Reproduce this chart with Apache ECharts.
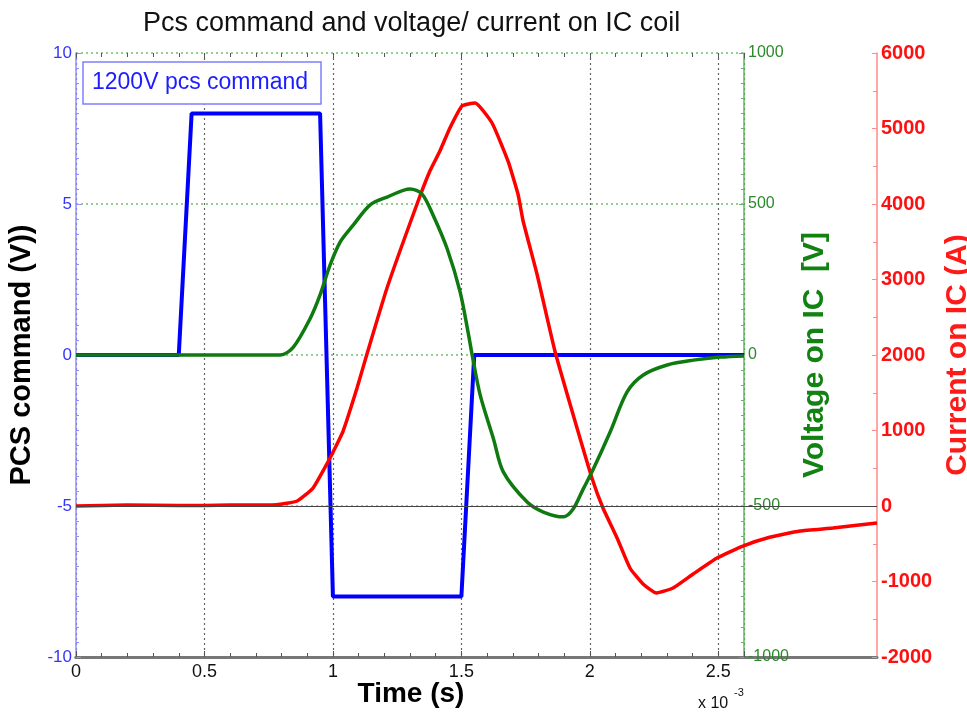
<!DOCTYPE html>
<html>
<head>
<meta charset="utf-8">
<script src="https://cdn.jsdelivr.net/npm/echarts@6/dist/echarts.min.js"></script>
<style>
html,body{margin:0;padding:0;background:#fff;}
#chart{width:967px;height:713px;}
</style>
</head>
<body>
<div id="chart"></div>
<script>
// Time in units of 1e-3 s
const xTicks = [0, 0.5, 1, 1.5, 2, 2.5];
const pcsTime  = [0, 0.40, 0.45, 0.95, 1.00, 1.50, 1.55, 2.60];
const pcsValue = [0, 0, 8, 8, -8, -8, 0, 0];

const voltTime  = [0, 0.795, 0.846, 0.911, 0.950, 0.989, 1.028, 1.079, 1.145, 1.211, 1.30, 1.347, 1.39, 1.445, 1.495, 1.526, 1.542, 1.573, 1.625, 1.663, 1.756, 1.819, 1.897, 1.935, 1.974, 2.014, 2.079, 2.145, 2.208, 2.301, 2.403, 2.508, 2.60];
const voltValue = [0, 0, 26, 120, 199, 298, 374, 430, 497, 523, 550, 533, 463, 351, 209, 76, 0, -132, -278, -387, -487, -520, -536, -510, -444, -377, -255, -122, -66, -33, -17, -7, -3];

const currTime  = [0, 0.2, 0.4, 0.6, 0.78, 0.861, 0.923, 0.962, 0.997, 1.040, 1.094, 1.133, 1.211, 1.328, 1.378, 1.417, 1.456, 1.503, 1.554, 1.620, 1.682, 1.721, 1.741, 1.795, 1.865, 1.935, 2.009, 2.052, 2.107, 2.157, 2.208, 2.260, 2.325, 2.403, 2.496, 2.597, 2.691, 2.819, 2.948, 3.119];
const currValue = [0, 12, 5, 12, 18, 66, 238, 464, 689, 993, 1560, 2013, 2887, 4000, 4437, 4702, 5007, 5298, 5338, 5073, 4570, 4132, 3775, 3073, 2050, 1219, 371, -26, -424, -821, -1033, -1152, -1086, -901, -689, -530, -424, -331, -291, -225];

const leftTicks = [-10, -5, 0, 5, 10];
const voltTicks = [-1000, -500, 0, 500, 1000];
const currTicks = [-2000, -1000, 0, 1000, 2000, 3000, 4000, 5000, 6000];

const zip = (a, b) => a.map((v, i) => [v, b[i]]);

const chart = echarts.init(document.getElementById('chart'), null, {renderer: 'canvas'});
const FONT = 'Liberation Sans, Arial, sans-serif';

const option = {
  animation: false,
  backgroundColor: '#ffffff',
  textStyle: {fontFamily: FONT},
  grid: [
    {left: 76, right: 223, top: 53, bottom: 56, containLabel: false, outerBoundsMode: 'none'},
    {left: 76, right: 90, top: 53, bottom: 56, containLabel: false, outerBoundsMode: 'none'}
  ],
  xAxis: [
    {
      type: 'value', gridIndex: 0, min: 0, max: 2.6, interval: 0.5,
      axisLine: {show: true, onZero: false, lineStyle: {color: '#555', width: 3}},
      axisTick: {show: true, inside: true, length: 6, lineStyle: {color: '#555'}},
      minorTick: {show: true, splitNumber: 5, length: 4, lineStyle: {color: '#555'}},
      axisLabel: {show: true, showMaxLabel: false, color: '#111', fontSize: 18, margin: 6,
        formatter: v => (xTicks.indexOf(+v.toFixed(2)) >= 0 ? String(+v.toFixed(2)) : '')},
      splitLine: {show: true, lineStyle: {color: '#666', type: [2, 3], width: 1.2}}
    },
    {
      type: 'value', gridIndex: 1, min: 0, max: 3.119,
      axisLine: {show: true, onZero: false, lineStyle: {color: '#777', width: 3}},
      axisTick: {show: false}, axisLabel: {show: false}, splitLine: {show: false}
    },
    {
      type: 'value', gridIndex: 0, min: 0, max: 2.6, interval: 0.5, position: 'top',
      axisLine: {show: false, onZero: false},
      axisTick: {show: true, inside: true, length: 5, lineStyle: {color: '#555'}},
      minorTick: {show: true, splitNumber: 5, length: 4, lineStyle: {color: '#555'}},
      axisLabel: {show: false}, splitLine: {show: false}
    }
  ],
  yAxis: [
    {
      type: 'value', gridIndex: 0, position: 'left', min: -10, max: 10, interval: 5,
      axisLine: {show: true, onZero: false, lineStyle: {color: '#8f8fff', width: 1.5}},
      axisTick: {show: true, inside: true, length: 5, lineStyle: {color: '#8f8fff'}},
      minorTick: {show: true, splitNumber: 10, length: 3, lineStyle: {color: '#8f8fff'}},
      axisLabel: {color: '#3434ff', fontSize: 17, margin: 4, formatter: v => String(v)},
      splitLine: {show: true, lineStyle: {color: '#6fbf6f', type: [2, 3], width: 1.5}},
      name: 'PCS command (V))', nameLocation: 'middle', nameRotate: 90, nameGap: 27,
      nameTextStyle: {color: '#000', fontSize: 29, fontWeight: 'bold', fontFamily: FONT}
    },
    {
      type: 'value', gridIndex: 0, position: 'right', min: -1000, max: 1000, interval: 500,
      axisLine: {show: true, onZero: false, lineStyle: {color: '#5fb85f', width: 1.5}},
      axisTick: {show: true, inside: true, length: 5, lineStyle: {color: '#5fb85f'}},
      minorTick: {show: true, splitNumber: 10, length: 3, lineStyle: {color: '#5fb85f'}},
      axisLabel: {color: '#2a8a2a', fontSize: 16, margin: 4, formatter: v => String(v)},
      splitLine: {show: false},
      name: 'Voltage on IC  [V]', nameLocation: 'middle', nameRotate: 90, nameGap: 54,
      nameTextStyle: {color: '#128212', fontSize: 30, fontWeight: 'bold', fontFamily: FONT}
    },
    {
      type: 'value', gridIndex: 1, position: 'right', min: -2000, max: 6000, interval: 1000,
      axisLine: {show: true, onZero: false, lineStyle: {color: '#ff8a8a', width: 1.5}},
      axisTick: {show: true, inside: true, length: 5, lineStyle: {color: '#ff8a8a'}},
      minorTick: {show: true, splitNumber: 2, length: 4, lineStyle: {color: '#ff8a8a'}},
      axisLabel: {color: '#ff1010', fontSize: 20, fontWeight: 'bold', margin: 4, formatter: v => String(v)},
      splitLine: {show: false},
      name: 'Current on IC (A)', nameLocation: 'middle', nameRotate: 90, nameGap: 62,
      nameTextStyle: {color: '#ff1a1a', fontSize: 30, fontWeight: 'bold', fontFamily: FONT}
    }
  ],
  series: [
    {
      name: 'Current on IC', type: 'line', xAxisIndex: 1, yAxisIndex: 2,
      data: zip(currTime, currValue), showSymbol: false, smooth: 0.15,
      lineStyle: {color: '#ff0000', width: 3.5}, z: 3,
      markLine: {silent: true, symbol: 'none', label: {show: false},
        lineStyle: {color: '#444', type: 'solid', width: 1.2}, data: [{yAxis: 0}]}
    },
    {
      name: '1200V pcs command', type: 'line', xAxisIndex: 0, yAxisIndex: 0,
      data: zip(pcsTime, pcsValue), showSymbol: false,
      lineStyle: {color: '#0000ff', width: 4}, z: 2
    },
    {
      name: 'Voltage on IC', type: 'line', xAxisIndex: 0, yAxisIndex: 1,
      data: zip(voltTime, voltValue), showSymbol: false, smooth: 0.3,
      lineStyle: {color: '#0f7a0f', width: 3.5}, z: 4
    }
  ],
  graphic: [
    {type: 'text', left: 143, top: 10, style: {text: 'Pcs command and voltage/ current on IC coil', fill: '#111', font: 'normal 27px ' + FONT}},
    {type: 'rect', shape: {x: 83, y: 62, width: 238, height: 42}, style: {fill: '#fff', stroke: '#7f7fff', lineWidth: 1.5}, z: 10},
    {type: 'text', x: 92, y: 83, style: {text: '1200V pcs command', fill: '#1c1cff', font: 'normal 23px ' + FONT, textVerticalAlign: 'middle'}, z: 11},
    {type: 'text', x: 411, y: 694, style: {text: 'Time (s)', fill: '#000', font: 'bold 28px ' + FONT, textAlign: 'center', textVerticalAlign: 'middle'}},
    {type: 'text', x: 698, y: 704, style: {text: 'x 10', fill: '#111', font: 'normal 16px ' + FONT, textVerticalAlign: 'middle'}},
    {type: 'text', x: 734, y: 693, style: {text: '-3', fill: '#111', font: 'normal 11px ' + FONT, textVerticalAlign: 'middle'}}
  ]
};
chart.setOption(option);
</script>
</body>
</html>
